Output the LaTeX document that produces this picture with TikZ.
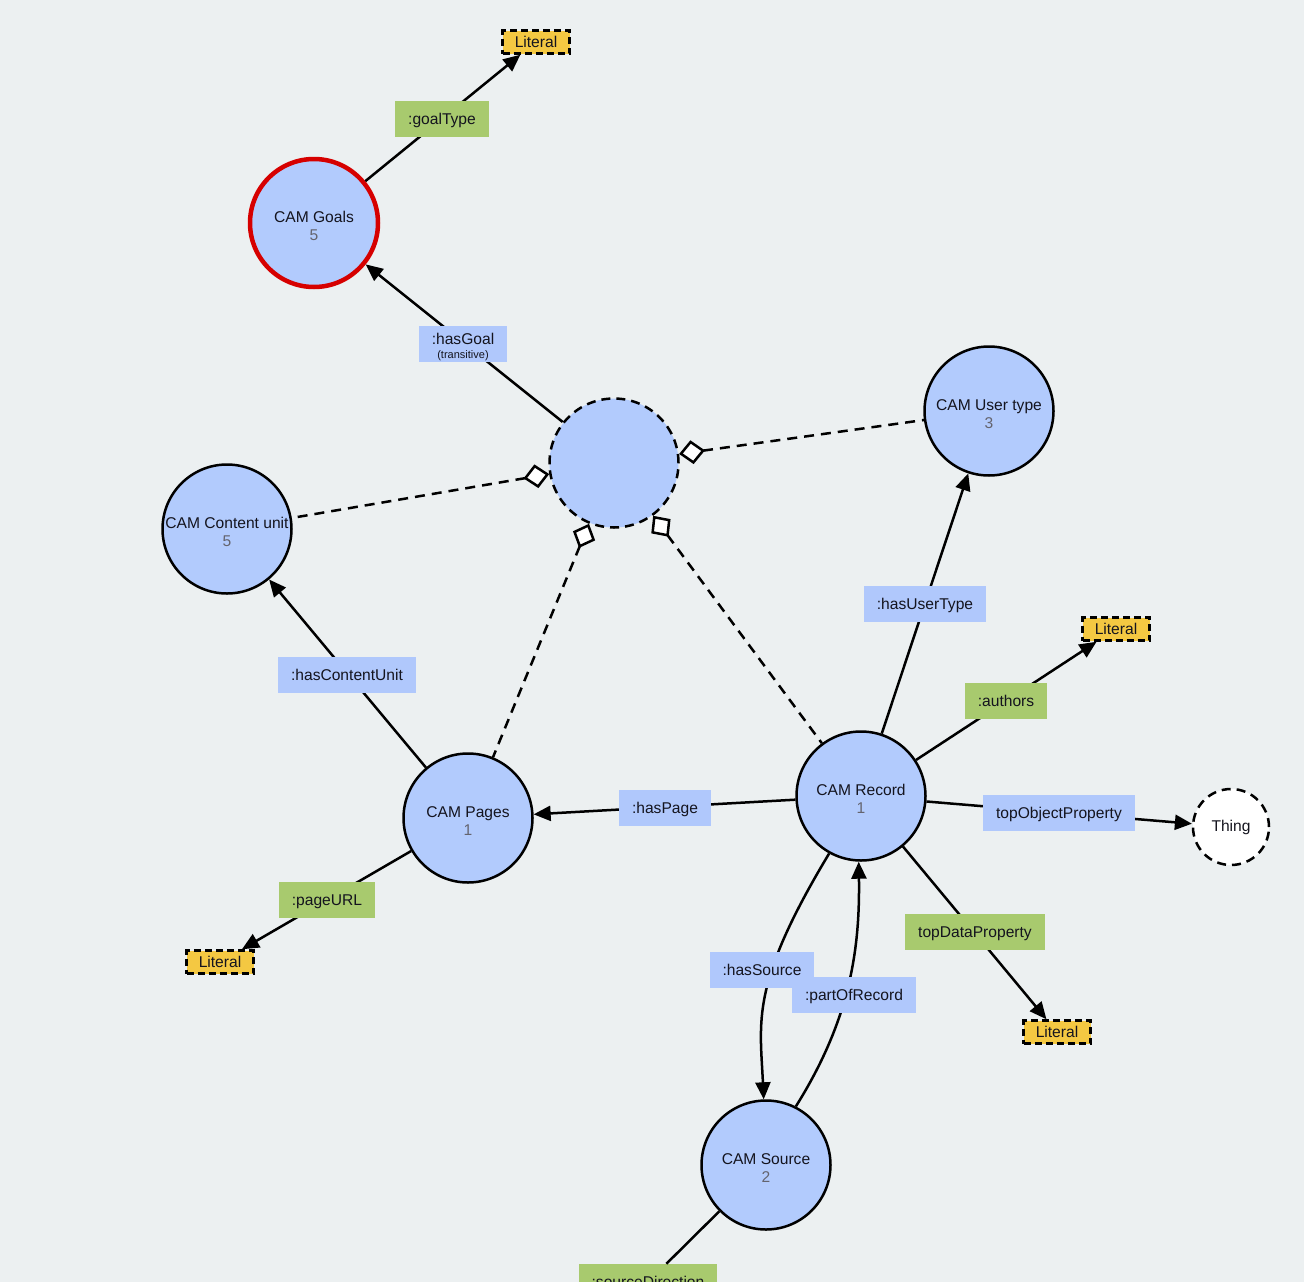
\documentclass[tikz,border=0pt]{standalone}
\usepackage{fontspec}
\setmainfont{Liberation Sans}
\usetikzlibrary{arrows.meta}
\definecolor{bgc}{RGB}{236,240,241}
\definecolor{clsblue}{RGB}{178,203,253}
\definecolor{lblblue}{RGB}{176,200,252}
\definecolor{lblgreen}{RGB}{168,202,110}
\definecolor{lityellow}{RGB}{244,200,66}
\definecolor{numgray}{RGB}{100,100,110}
\definecolor{goalred}{RGB}{214,0,0}
\definecolor{txt}{RGB}{20,20,30}
\newcommand{\upstrut}{\rule{0pt}{17.4pt}}
\begin{document}
\begin{tikzpicture}[x=1pt,y=-1pt,
 every node/.style={text=txt},
 cls/.style={circle,draw=black,line width=2.5pt,fill=clsblue,minimum size=129pt,inner sep=0pt,align=center,font=\fontsize{15.6}{18}\selectfont},
 boxbase/.style={minimum height=36pt,inner xsep=13pt,inner ysep=0pt,font=\fontsize{15.6}{18}\selectfont},
 propbox/.style={boxbase,text height=15pt,text depth=4pt},
 objprop/.style={propbox,fill=lblblue},
 dataprop/.style={propbox,fill=lblgreen},
 litbox/.style={draw=black,fill=lityellow,line width=2.5pt,dash pattern=on 7pt off 4pt,minimum width=67pt,minimum height=23pt,inner sep=0pt,font=\fontsize{15.6}{18}\selectfont},
 conn/.style={line width=2.5pt,draw=black},
 arr/.style={conn,-{Triangle[length=17pt,width=15pt]}},
 dashconn/.style={conn,dash pattern=on 10pt off 7pt,{Diamond[length=26pt,width=24pt,fill=white,line width=2.5pt]}-},
]
\fill[bgc] (0,0) rectangle (1304,1282);
\useasboundingbox (0,0) rectangle (1304,1282);
\clip (0,0) rectangle (1304,1282);

% class nodes
\node[cls,draw=goalred,line width=4.5pt,minimum size=128pt] (goals) at (314,223) {\upstrut CAM Goals\\{\color{numgray}5}};
\node[cls,dash pattern=on 9pt off 6pt] (ctr) at (614,463) {};
\node[cls] (usr) at (989,411) {\upstrut CAM User type\\{\color{numgray}3}};
\node[cls] (cu) at (227,529) {\upstrut CAM Content unit\\{\color{numgray}5}};
\node[cls] (pg) at (468,818) {\upstrut CAM Pages\\{\color{numgray}1}};
\node[cls] (rec) at (861,796) {\upstrut CAM Record\\{\color{numgray}1}};
\node[cls] (src) at (766,1165) {\upstrut CAM Source\\{\color{numgray}2}};
\node[cls,fill=white,dash pattern=on 9pt off 6pt,minimum size=76pt] (thing) at (1231,827) {Thing};

% literals
\node[litbox] (lit1) at (536,42) {Literal};
\node[litbox] (lit2) at (1116,629) {Literal};
\node[litbox] (lit3) at (1057,1032) {Literal};
\node[litbox] (lit4) at (220,962) {Literal};

% connectors
\draw[arr] (goals) -- (lit1);
\draw[arr] (ctr) -- (goals);
\draw[dashconn] (ctr) -- (usr);
\draw[dashconn] (ctr) -- (cu);
\draw[dashconn] (ctr) -- (pg);
\draw[dashconn] (ctr) -- (rec);
\draw[arr] (pg) -- (cu);
\draw[arr] (rec) -- (pg);
\draw[arr] (rec) -- (usr);
\draw[arr] (rec) -- (lit2);
\draw[arr] (rec) -- (thing);
\draw[arr] (rec) -- (lit3);
\draw[arr] (pg) -- (lit4);
\draw[arr] (rec.241) .. controls (750,985) and (760,1020) .. (src.92);
\draw[arr] (src.63) .. controls (850,1020) and (860,950) .. (rec.268);

% property labels
\node[dataprop] (lGoalType) at (442,119) {:goalType};
\node[boxbase,fill=lblblue,align=center] (lHasGoal) at (463,344) {\upstrut:hasGoal\\[-4pt]{\fontsize{11}{12}\selectfont(transitive)}};
\node[objprop] (lContent) at (347,675) {:hasContentUnit};
\node[objprop] (lPage) at (665,808) {:hasPage};
\node[objprop] (lUser) at (925,604) {:hasUserType};
\node[dataprop] (lAuthors) at (1006,701) {:authors};
\node[objprop] (lTop) at (1059,813) {topObjectProperty};
\node[dataprop] (lTopData) at (975,932) {topDataProperty};
\node[objprop] (lSource) at (762,970) {:hasSource};
\node[objprop] (lPart) at (854,995) {:partOfRecord};
\node[dataprop] (lPageURL) at (327,900) {:pageURL};
\node[dataprop] (lSrcDir) at (648,1282) {:sourceDirection};
\draw[conn] (src) -- (lSrcDir);
\end{tikzpicture}
\end{document}
